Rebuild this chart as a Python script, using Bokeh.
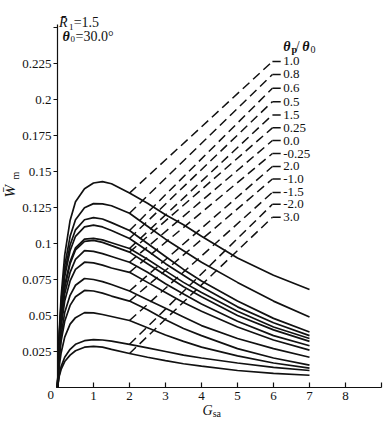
import math
from bokeh.plotting import figure
from bokeh.models import Range1d, FixedTicker, Label
from bokeh.embed import file_html
from bokeh.resources import INLINE

# ---------------- data ----------------
G_SA = [0, 0.05, 0.1, 0.2, 0.35, 0.5, 0.75, 1.0, 1.25, 1.5, 2.0, 2.5, 3.0, 3.5, 4.0, 5.0, 6.0, 7.0]

W_P1_0 = [0, 0.039, 0.063, 0.092, 0.116, 0.129, 0.138, 0.142, 0.143, 0.1415, 0.135, 0.128, 0.120, 0.113, 0.105, 0.090, 0.078, 0.068]
W_P0_8 = [0, 0.037, 0.059, 0.0845, 0.105, 0.1165, 0.1248, 0.1277, 0.1275, 0.1262, 0.121, 0.112, 0.103, 0.095, 0.087, 0.073, 0.060, 0.049]
W_P0_6 = [0, 0.035, 0.056, 0.080, 0.099, 0.1095, 0.1165, 0.118, 0.117, 0.1145, 0.109, 0.100, 0.091, 0.082, 0.074, 0.060, 0.048, 0.0385]
W_P0_5 = [0, 0.034, 0.054, 0.077, 0.095, 0.105, 0.1115, 0.1128, 0.1115, 0.109, 0.1035, 0.095, 0.086, 0.078, 0.070, 0.056, 0.045, 0.036]
W_P1_5 = [0, 0.031, 0.050, 0.071, 0.0875, 0.097, 0.103, 0.1035, 0.1025, 0.1005, 0.0965, 0.089, 0.081, 0.073, 0.066, 0.053, 0.042, 0.034]
W_P0_25 = [0, 0.030, 0.048, 0.069, 0.086, 0.0955, 0.1015, 0.1022, 0.1008, 0.0985, 0.094, 0.086, 0.078, 0.070, 0.063, 0.050, 0.040, 0.032]
W_P0_0 = [0, 0.029, 0.046, 0.065, 0.080, 0.089, 0.095, 0.0945, 0.093, 0.091, 0.087, 0.080, 0.072, 0.065, 0.058, 0.046, 0.036, 0.029]
W_M0_25 = [0, 0.027, 0.042, 0.060, 0.074, 0.082, 0.087, 0.0865, 0.085, 0.083, 0.080, 0.073, 0.066, 0.059, 0.053, 0.042, 0.033, 0.026]
W_P2_0 = [0, 0.023, 0.036, 0.052, 0.064, 0.071, 0.0757, 0.075, 0.0735, 0.0715, 0.067, 0.061, 0.055, 0.049, 0.043, 0.034, 0.027, 0.021]
W_M1_0 = [0, 0.020, 0.032, 0.046, 0.057, 0.063, 0.0674, 0.067, 0.0655, 0.0635, 0.060, 0.054, 0.047, 0.041, 0.036, 0.027, 0.0205, 0.0155]
W_M1_5 = [0, 0.015, 0.024, 0.035, 0.044, 0.0485, 0.052, 0.0518, 0.0507, 0.0493, 0.0465, 0.0415, 0.0365, 0.032, 0.028, 0.022, 0.017, 0.0135]
W_M2_0 = [0, 0.009, 0.0145, 0.021, 0.0265, 0.030, 0.0325, 0.0333, 0.033, 0.0322, 0.030, 0.0275, 0.025, 0.0225, 0.0205, 0.017, 0.014, 0.0118]
W_P3_0 = [0, 0.008, 0.0125, 0.018, 0.0225, 0.0255, 0.028, 0.0285, 0.028, 0.0265, 0.0236, 0.021, 0.0187, 0.0165, 0.0148, 0.0118, 0.0098, 0.0085]

CURVES = [W_P1_0, W_P0_8, W_P0_6, W_P0_5, W_P1_5, W_P0_25, W_P0_0,
          W_M0_25, W_P2_0, W_M1_0, W_M1_5, W_M2_0, W_P3_0]
RATIO_LABELS = ["1.0", "0.8", "0.6", "0.5", "1.5", "0.25", "0.0",
                "-0.25", "2.0", "-1.0", "-1.5", "-2.0", "3.0"]
LABEL_Y = [0.2264, 0.2174, 0.2078, 0.1985, 0.1893, 0.1803, 0.1715,
           0.1625, 0.1535, 0.1448, 0.1355, 0.1272, 0.1182]
LEADER_FROM_X = 2.0
LEADER_TO_X = 5.97
LEADER_END_X = 6.2
LABEL_X = 6.27

X_TICKS = [0, 1, 2, 3, 4, 5, 6, 7, 8, 9]
X_TICK_TEXT = ["", "1", "2", "3", "4", "5", "6", "7", "8", ""]
Y_TICKS = [0.025, 0.05, 0.075, 0.1, 0.125, 0.15, 0.175, 0.2, 0.225, 0.25]
Y_TICK_TEXT = ["0.025", "0.05", "0.075", "0.1", "0.125", "0.15", "0.175", "0.2", "0.225", ""]
X_AXIS_END = 9.0
Y_AXIS_END = 0.252

FONT = "Liberation Serif"
INK = "#111111"

W_PX, H_PX = 386, 422
X0_PX, Y0_PX = 57, 387
PX_PER_X, PX_PER_Y = 36.0, 1440.0

# ---------------- figure (frame covers the whole canvas) ----------------
p = figure(width=W_PX, height=H_PX,
           x_range=Range1d(-X0_PX / PX_PER_X, (W_PX - X0_PX) / PX_PER_X),
           y_range=Range1d(-(H_PX - Y0_PX) / PX_PER_Y, Y0_PX / PX_PER_Y),
           output_backend="svg", toolbar_location=None,
           min_border_left=0, min_border_right=0, min_border_top=0, min_border_bottom=0)
p.outline_line_color = None
p.grid.visible = False
p.background_fill_color = "white"
p.border_fill_color = "white"

p.xaxis.fixed_location = 0
p.yaxis.fixed_location = 0
p.xaxis.bounds = (0, X_AXIS_END)
p.yaxis.bounds = (0, Y_AXIS_END)

p.xaxis.ticker = FixedTicker(ticks=X_TICKS)
p.xaxis.major_label_overrides = {t: s for t, s in zip(X_TICKS, X_TICK_TEXT)}
p.xaxis.major_tick_in = 5
p.xaxis.major_tick_out = 0
p.xaxis.major_label_standoff = 4
p.yaxis.ticker = FixedTicker(ticks=Y_TICKS)
p.yaxis.major_label_overrides = {t: s for t, s in zip(Y_TICKS, Y_TICK_TEXT)}
p.yaxis.major_tick_in = 0
p.yaxis.major_tick_out = 4
p.yaxis.major_label_standoff = 2
for ax in (p.xaxis, p.yaxis):
    ax.minor_tick_line_color = None
    ax.axis_line_color = INK
    ax.axis_line_width = 1.2
    ax.major_tick_line_color = INK
    ax.major_tick_line_width = 1.2
    ax.major_label_text_font = FONT
    ax.major_label_text_font_size = "13px"
    ax.major_label_text_color = INK

# curves
for ys in CURVES:
    p.line(G_SA, ys, line_color=INK, line_width=1.7)

# leader lines with their labels
i2 = G_SA.index(LEADER_FROM_X)
for ys, ly, txt in zip(CURVES, LABEL_Y, RATIO_LABELS):
    p.line([LEADER_FROM_X, LEADER_TO_X], [ys[i2], ly], line_color=INK,
           line_width=1.5, line_dash="9 5")
    p.line([LEADER_TO_X, LEADER_END_X], [ly, ly], line_color=INK, line_width=1.5)
    p.add_layout(Label(x=LABEL_X, y=ly, text=txt, text_font=FONT, text_font_size="13px",
                       text_color=INK, text_baseline="middle", text_align="left"))


def lab(x, y, text, size="13px", style="normal", angle=0.0, align="left"):
    p.add_layout(Label(x=x, y=y, text=text, text_font=FONT, text_font_size=size,
                       text_font_style=style, text_color=INK, angle=angle,
                       text_baseline="middle", text_align=align))


# origin label
lab(-0.19, -0.0055, "0", "13px", align="center")

# header of label column: θp/θ0
lab(6.27, 0.2368, "θ", "14px", "bold italic")
lab(6.50, 0.2348, "p", "10px", "bold")
lab(6.62, 0.2368, "/", "14px")
lab(6.80, 0.2368, "θ", "14px", "bold italic")
lab(7.03, 0.2348, "0", "10px")

# top-left parameters
lab(0.04, 0.2535, "R\u0304", "14px", "italic")
lab(0.32, 0.2505, "1", "9px")
lab(0.45, 0.2535, "=1.5", "14px")
lab(0.14, 0.2440, "θ", "14px", "bold italic")
lab(0.36, 0.2418, "0", "9px")
lab(0.50, 0.2440, "=30.0°", "14px")

# axis titles
lab(-1.333, 0.1320, "W\u0304", "15px", "italic", angle=math.pi / 2, align="left")
lab(-1.153, 0.1445, "m", "10px", "normal", angle=math.pi / 2, align="left")
lab(4.03, -0.0160, "G", "14px", "italic")
lab(4.31, -0.0178, "sa", "10px")

open("out.html", "w").write(file_html(p, INLINE))
